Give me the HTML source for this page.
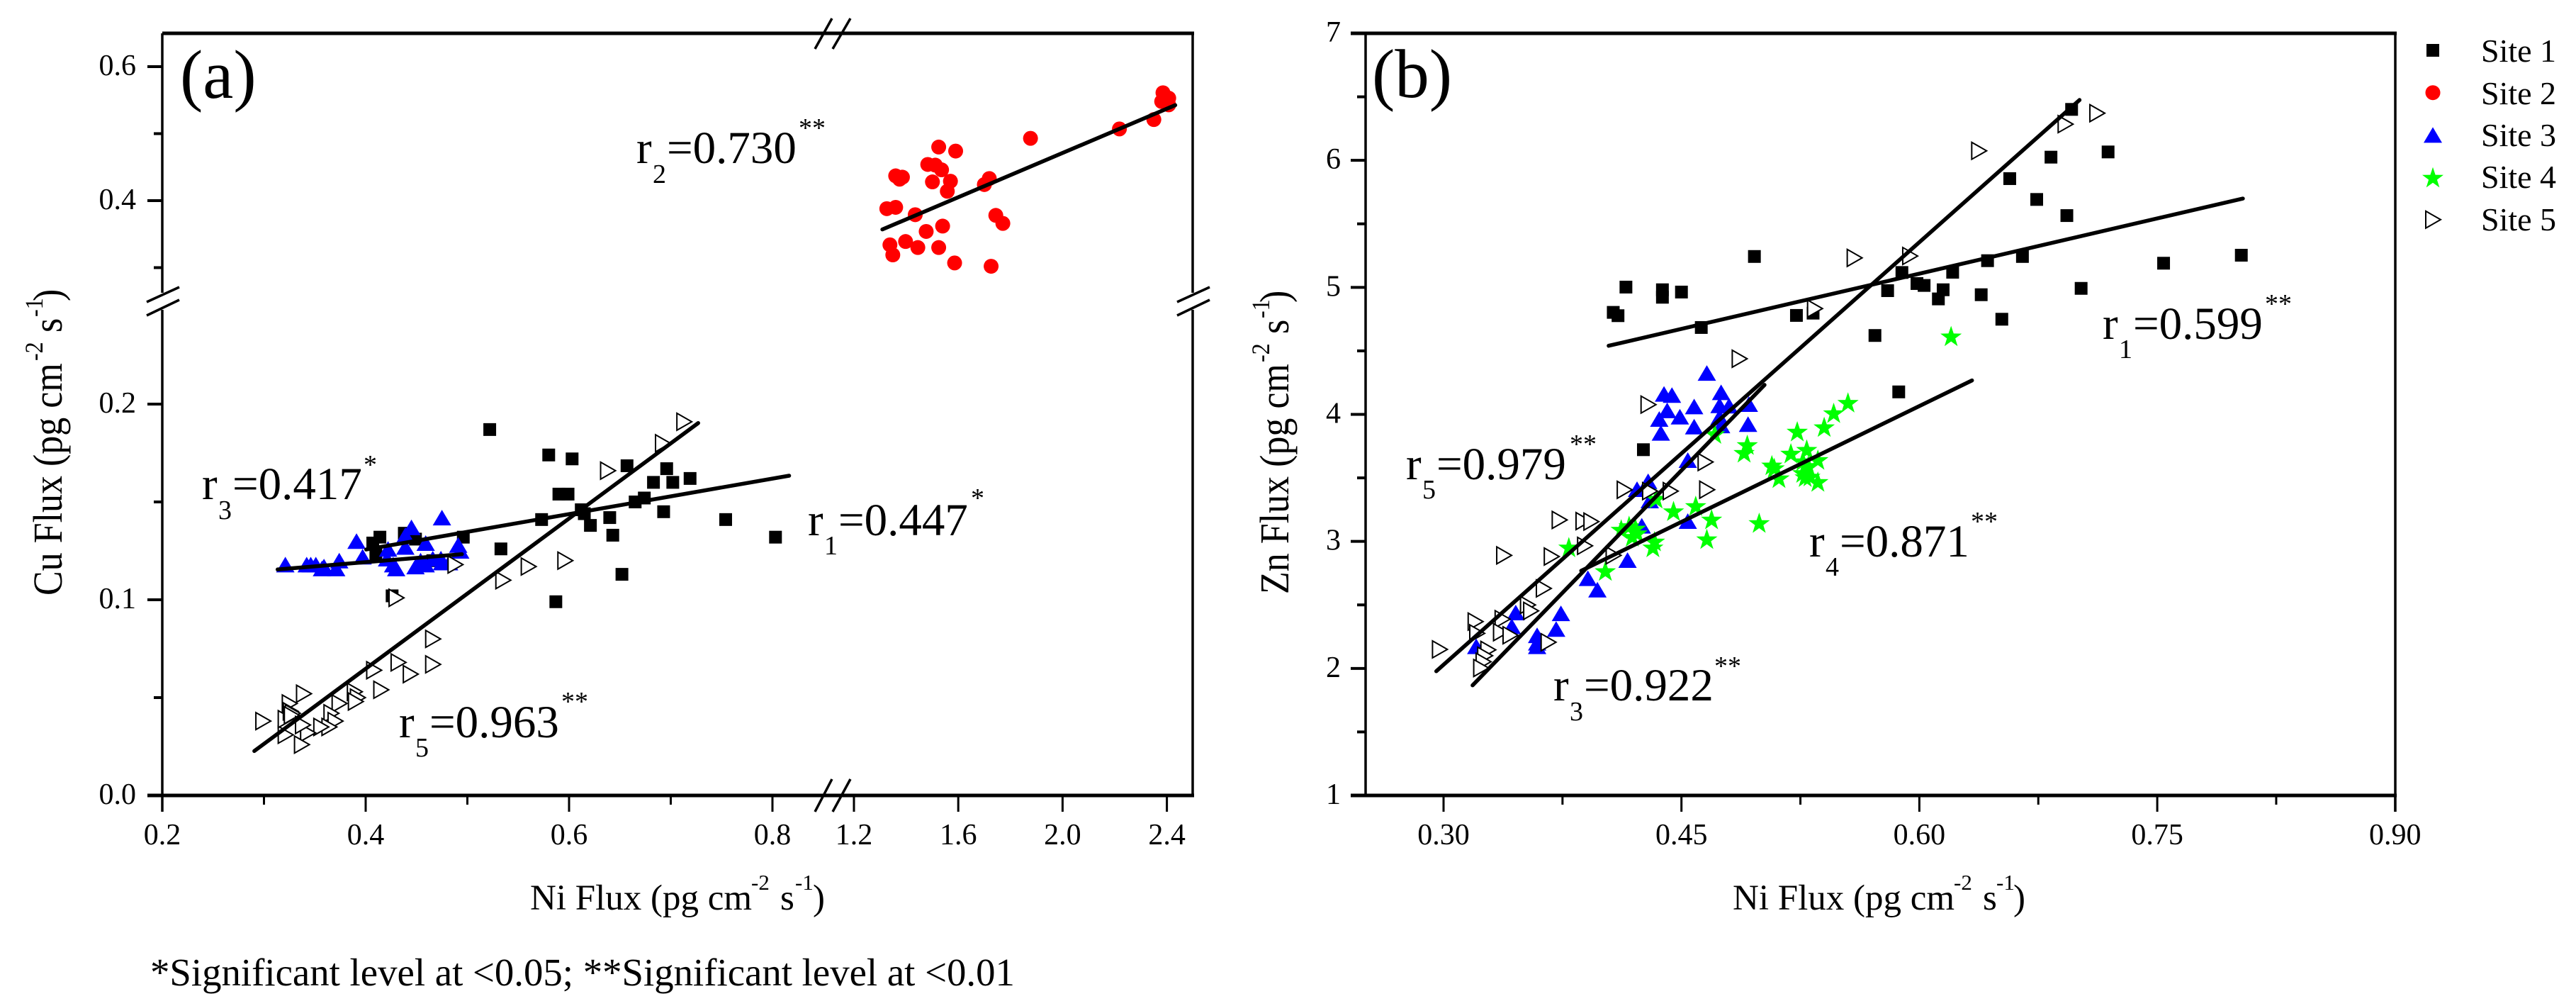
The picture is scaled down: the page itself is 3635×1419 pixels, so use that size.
<!DOCTYPE html>
<html lang="en">
<head>
<meta charset="utf-8">
<title>Ni flux correlation scatter charts</title>
<style>
html,body{margin:0;padding:0;background:#fff;}
svg{display:block;font-family:"Liberation Serif","Times New Roman",serif;fill:#000;}
</style>
</head>
<body>
<svg id="fig" xmlns="http://www.w3.org/2000/svg" width="3635" height="1419" viewBox="0 0 3635 1419">
<rect width="3635" height="1419" fill="#fff"/>
<g id="a-axes"></g>
<g id="b-axes"></g>
<g id="a-marks"></g>
<g id="b-marks"></g>
<g id="legend-marks"></g>

<text x="254" y="138" font-size="97">(a)</text>
<text x="1936" y="137" font-size="97">(b)</text>

<g id="r2a"><text x="898" y="230" font-size="65">r</text><text x="921" y="258" font-size="38">2</text><text x="941" y="230" font-size="65">=0.730</text><text x="1127" y="193" font-size="38">**</text></g>
<g><text x="285" y="704" font-size="65">r</text><text x="308" y="732" font-size="38">3</text><text x="328" y="704" font-size="65">=0.417</text><text x="513" y="668" font-size="38">*</text></g>
<g><text x="1140" y="755" font-size="65">r</text><text x="1163" y="782" font-size="38">1</text><text x="1183" y="755" font-size="65">=0.447</text><text x="1370" y="715" font-size="38">*</text></g>
<g><text x="563" y="1040" font-size="65">r</text><text x="586" y="1067" font-size="38">5</text><text x="606" y="1040" font-size="65">=0.963</text><text x="792" y="1002" font-size="38">**</text></g>

<g><text x="2967" y="478" font-size="65">r</text><text x="2990" y="505" font-size="38">1</text><text x="3010" y="478" font-size="65">=0.599</text><text x="3196" y="441" font-size="38">**</text></g>
<g><text x="1984" y="676" font-size="65">r</text><text x="2007" y="703" font-size="38">5</text><text x="2027" y="676" font-size="65">=0.979</text><text x="2215" y="639" font-size="38">**</text></g>
<g><text x="2553" y="785" font-size="65">r</text><text x="2576" y="812" font-size="38">4</text><text x="2596" y="785" font-size="65">=0.871</text><text x="2781" y="748" font-size="38">**</text></g>
<g><text x="2192" y="988" font-size="65">r</text><text x="2215" y="1016" font-size="38">3</text><text x="2235" y="988" font-size="65">=0.922</text><text x="2419" y="952" font-size="38">**</text></g>

<g><text x="748" y="1283" font-size="51">Ni Flux (pg cm</text><text x="1060" y="1255" font-size="31">-2</text><text x="1101" y="1283" font-size="51">s</text><text x="1122" y="1255" font-size="31">-1</text><text x="1147" y="1283" font-size="51">)</text></g>
<g><text x="2445" y="1283" font-size="51">Ni Flux (pg cm</text><text x="2757" y="1255" font-size="31">-2</text><text x="2798" y="1283" font-size="51">s</text><text x="2817" y="1255" font-size="31">-1</text><text x="2841" y="1283" font-size="51">)</text></g>

<g transform="translate(87 0) rotate(-90) scale(1 1.12)"><text x="-840" y="0" font-size="52">Cu Flux (pg cm</text><text x="-509" y="-24" font-size="32">-2</text><text x="-469" y="0" font-size="52">s</text><text x="-447" y="-24" font-size="32">-1</text><text x="-425" y="0" font-size="52">)</text></g>
<g transform="translate(1818 0) rotate(-90) scale(1 1.12)"><text x="-838" y="0" font-size="52">Zn Flux (pg cm</text><text x="-511" y="-24" font-size="32">-2</text><text x="-471" y="0" font-size="52">s</text><text x="-449" y="-24" font-size="32">-1</text><text x="-427" y="0" font-size="52">)</text></g>

<text x="212" y="1390" font-size="54.8">*Significant level at &lt;0.05; **Significant level at &lt;0.01</text>

<g font-size="46">
<text x="3501" y="87">Site 1</text>
<text x="3501" y="147">Site 2</text>
<text x="3501" y="206">Site 3</text>
<text x="3501" y="265">Site 4</text>
<text x="3501" y="325">Site 5</text>
</g>
</svg>

<script>
// ---- Panel (a) ticks ----
const aXMajorLow = [0.2, 0.4, 0.6, 0.8];
const aXMajorHigh = [1.2, 1.6, 2.0, 2.4];
const aXMinor = [0.3, 0.5, 0.7];
const aYMajor = [0.0, 0.1, 0.2, 0.4, 0.6];
const aYMinor = [0.05, 0.15, 0.3, 0.5];

// ---- Panel (b) ticks ----
const bXMajor = [0.30, 0.45, 0.60, 0.75, 0.90];
const bXMinor = [0.375, 0.525, 0.675, 0.825];
const bYMajor = [1, 2, 3, 4, 5, 6, 7];
const bYMinor = [1.5, 2.5, 3.5, 4.5, 5.5, 6.5];

// ---- Panel (a) series: [Ni, Cu] ----
const aSite1 = [[.522,.187],[.580,.174],[.603,.172],[.657,.1685],[.696,.167],[.683,.160],[.702,.160],[.719,.162],[.590,.154],[.599,.154],[.573,.141],[.612,.146],[.615,.144],[.621,.138],[.640,.142],[.643,.133],[.665,.150],[.674,.152],[.693,.145],[.754,.141],[.803,.132],[.533,.126],[.652,.113],[.587,.099],[.407,.129],[.414,.132],[.438,.134],[.449,.131],[.496,.132],[.466,.120],[.410,.123],[.426,.102]];
const aSite2 = [[2.385,.561],[2.407,.553],[2.380,.548],[2.400,.548],[2.407,.543],[2.350,.521],[2.218,.507],[1.877,.493],[1.525,.480],[1.590,.474],[1.483,.454],[1.512,.453],[1.536,.446],[1.360,.437],[1.375,.432],[1.386,.435],[1.501,.428],[1.570,.429],[1.558,.414],[1.719,.433],[1.700,.424],[1.326,.388],[1.360,.390],[1.435,.379],[1.744,.378],[1.771,.366],[1.540,.362],[1.477,.354],[1.398,.339],[1.338,.334],[1.445,.330],[1.525,.330],[1.349,.319],[1.586,.307],[1.726,.302]];
const aSite3 = [[.321,.118],[.342,.118],[.346,.118],[.351,.118],[.359,.117],[.357,.116],[.374,.120],[.371,.116],[.391,.130],[.397,.122],[.422,.126],[.421,.121],[.445,.137],[.439,.133],[.439,.127],[.459,.129],[.475,.142],[.491,.128],[.493,.125],[.474,.121],[.466,.121],[.454,.120],[.449,.117],[.459,.118],[.430,.116],[.427,.118],[.475,.119],[.482,.119]];
const aSite5 = [[.299,.038],[.339,.052],[.325,.047],[.466,.080],[.466,.067],[.432,.068],[.444,.062],[.408,.064],[.415,.054],[.389,.053],[.392,.050],[.390,.048],[.374,.047],[.366,.042],[.370,.038],[.364,.035],[.356,.035],[.343,.032],[.337,.026],[.321,.031],[.321,.039],[.326,.043],[.328,.042],[.327,.041],[.338,.036],[.638,.166],[.692,.180],[.713,.191],[.560,.117],[.596,.120],[.535,.110],[.488,.118],[.430,.101]];

// ---- Panel (a) fit lines: endpoints as data values ----
const aFit1X = [.4005, .8164];
const aFit1Y = [.1257, .1634];
const aFit2X = [1.309, 2.432];
const aFit2Y = [.357, .5425];
const aFit3X = [.3134, .4946];
const aFit3Y = [.1155, .1233];
const aFit5X = [.2905, .727];
const aFit5Y = [.0227, .1903];

// ---- Panel (b) series: [Ni, Zn] ----
const bSite1 = [[.415,5.002],[.438,4.981],[.438,4.922],[.450,4.963],[.496,5.243],[.407,4.803],[.410,4.777],[.4625,4.684],[.5225,4.779],[.533,4.797],[.589,5.117],[.580,4.974],[.5985,5.030],[.603,5.015],[.572,4.621],[.696,6.401],[.719,6.066],[.683,6.025],[.657,5.856],[.674,5.692],[.693,5.565],[.665,5.243],[.643,5.210],[.621,5.119],[.615,4.981],[.612,4.909],[.639,4.942],[.702,4.992],[.754,5.190],[.803,5.253],[.652,4.749],[.426,3.722],[.587,4.177]];
const bSite3 = [[.466,4.326],[.439,4.161],[.444,4.152],[.475,4.174],[.458,4.062],[.474,4.071],[.480,4.068],[.4925,4.081],[.441,4.031],[.449,3.982],[.436,3.964],[.474,3.979],[.458,3.904],[.492,3.923],[.475,3.913],[.437,3.854],[.454,3.640],[.429,3.473],[.422,3.411],[.430,3.322],[.454,3.160],[.425,3.123],[.416,2.853],[.391,2.710],[.397,2.620],[.374,2.434],[.371,2.310],[.359,2.261],[.359,2.202],[.359,2.174],[.3455,2.440],[.343,2.332],[.3206,2.174]];
const bSite4 = [[.620,4.617],[.555,4.094],[.546,4.012],[.540,3.902],[.523,3.867],[.4915,3.761],[.4895,3.700],[.529,3.724],[.519,3.694],[.536,3.644],[.507,3.601],[.5085,3.579],[.5265,3.634],[.530,3.597],[.5265,3.541],[.5115,3.500],[.528,3.508],[.536,3.471],[.531,3.513],[.471,3.848],[.434,3.339],[.459,3.281],[.445,3.240],[.469,3.175],[.466,3.020],[.499,3.147],[.412,3.095],[.417,3.123],[.421,3.104],[.422,3.067],[.419,3.039],[.433,3.002],[.432,2.955],[.379,2.955],[.402,2.769]];
const bSite5 = [[.559,5.232],[.594,5.247],[.534,4.833],[.4865,4.438],[.712,6.371],[.692,6.285],[.6375,6.075],[.429,4.077],[.465,3.625],[.414,3.406],[.430,3.396],[.443,3.396],[.466,3.407],[.373,3.169],[.388,3.160],[.393,3.156],[.389,2.965],[.338,2.890],[.368,2.881],[.407,2.890],[.363,2.630],[.353,2.500],[.355,2.453],[.337,2.388],[.320,2.369],[.321,2.276],[.336,2.285],[.342,2.261],[.366,2.206],[.328,2.146],[.326,2.100],[.325,2.053],[.3235,2.003],[.2975,2.150]];

// ---- Panel (b) fit lines ----
const bFit1X = [.4041, .804];
const bFit1Y = [4.540, 5.699];
const bFit3X = [.3183, .5024];
const bFit3Y = [1.867, 4.232];
const bFit4X = [.3868, .6332];
const bFit4Y = [2.769, 4.267];
const bFit5X = [.2954, .701];
const bFit5Y = [1.978, 6.475];

// ---- Legend ----
const legendSites = ['square', 'circle', 'triangle', 'star', 'open'];

// ---- Axis functions ----
function xa(v) { return v <= 1.0 ? 229 + (v - 0.2) * 1435 : 1205 + (v - 1.2) * 368; }
function ya(v) { return v >= 0.255 ? 283 - (v - 0.4) * 945 : 1122 - v * 2760; }
function xb(v) { return 2037 + (v - 0.3) * 2238; }
function yb(v) { return 1122 - (v - 1) * 179.17; }

const NS = 'http://www.w3.org/2000/svg';
function make(tag, attrs, parent) {
  const el = document.createElementNS(NS, tag);
  for (const k in attrs) el.setAttribute(k, attrs[k]);
  parent.appendChild(el);
  return el;
}
function seg(parent, x1, y1, x2, y2, w, name, cap) {
  const el = make('line', {x1: x1, y1: y1, x2: x2, y2: y2, stroke: '#000', 'stroke-width': w, 'stroke-linecap': cap || 'butt'}, parent);
  
  
  return el;
}
function tickLabel(parent, x, y, text, anchor, name) {
  const el = make('text', {x: x, y: y, 'font-size': 42, 'text-anchor': anchor}, parent);
  el.textContent = text;
  
  
}
function marker(parent, kind, cx, cy, name) {
  let el;
  if (kind === 'square') {
    el = make('rect', {x: cx - 9, y: cy - 9, width: 18, height: 18, fill: '#000'}, parent);
  } else if (kind === 'circle') {
    el = make('circle', {cx: cx, cy: cy, r: 10.5, fill: '#f00'}, parent);
  } else if (kind === 'triangle') {
    el = make('polygon', {points: (cx) + ',' + (cy - 11) + ' ' + (cx + 13) + ',' + (cy + 11) + ' ' + (cx - 13) + ',' + (cy + 11), fill: '#00f'}, parent);
  } else if (kind === 'star') {
    const pts = [];
    for (let i = 0; i < 10; i++) {
      const r = i % 2 ? 6.2 : 15.8;
      const t = -Math.PI / 2 + i * Math.PI / 5;
      pts.push((cx + r * Math.cos(t)).toFixed(1) + ',' + (cy + 1.5 + r * Math.sin(t)).toFixed(1));
    }
    el = make('polygon', {points: pts.join(' '), fill: '#0f0'}, parent);
  } else {
    el = make('polygon', {points: (cx - 10) + ',' + (cy - 12) + ' ' + (cx + 11) + ',' + cy + ' ' + (cx - 10) + ',' + (cy + 12), fill: '#fff', stroke: '#000', 'stroke-width': 2}, parent);
  }
  
  
}
function breakMark(parent, x1, y1, x2, y2, name) {
  seg(parent, x1, y1, x2, y2, 3.5, name);
}

// ---- Panel (a) axes ----
const ga = document.getElementById('a-axes');
seg(ga, 229, 47, 1685, 47, 5, 'top-axis-a');
seg(ga, 208, 1122, 1685, 1122, 5, 'bottom-axis-a');
seg(ga, 229, 47, 229, 413, 3.5, 'left-axis-upper-a');
seg(ga, 229, 437, 229, 1145, 3.5, 'left-axis-lower-a');
seg(ga, 1683, 47, 1683, 413, 3.5, 'right-axis-upper-a');
seg(ga, 1683, 437, 1683, 1122, 3.5, 'right-axis-lower-a');
aYMajor.forEach(function (v) {
  seg(ga, 208, ya(v), 229, ya(v), 4, 'y-tick-a');
  tickLabel(ga, 192, ya(v) + 12, v.toFixed(1), 'end', 'y-tick-label-a');
});
aYMinor.forEach(function (v) {
  seg(ga, 217, ya(v), 229, ya(v), 4, 'y-minor-tick-a');
});
aXMajorLow.concat(aXMajorHigh).forEach(function (v) {
  seg(ga, xa(v), 1122, xa(v), 1145, 3, 'x-tick-a');
  tickLabel(ga, xa(v), 1191, v.toFixed(1), 'middle', 'x-tick-label-a');
});
aXMinor.forEach(function (v) {
  seg(ga, xa(v), 1122, xa(v), 1135, 3, 'x-minor-tick-a');
});
breakMark(ga, 1150, 69, 1174, 26, 'top-axis-break-a');
breakMark(ga, 1175, 69, 1200, 26, 'top-axis-break-a');
breakMark(ga, 1150, 1145, 1174, 1099, 'bottom-axis-break-a');
breakMark(ga, 1175, 1145, 1200, 1099, 'bottom-axis-break-a');
breakMark(ga, 207, 426, 253, 405, 'left-axis-break-a');
breakMark(ga, 207, 445, 253, 423, 'left-axis-break-a');
breakMark(ga, 1661, 426, 1707, 405, 'right-axis-break-a');
breakMark(ga, 1661, 445, 1707, 423, 'right-axis-break-a');

// ---- Panel (b) axes ----
const gb = document.getElementById('b-axes');
seg(gb, 1906, 47, 3382, 47, 5, 'top-axis-b');
seg(gb, 1906, 1122, 3382, 1122, 5, 'bottom-axis-b');
seg(gb, 1927, 47, 1927, 1122, 3.5, 'left-axis-b');
seg(gb, 3380, 47, 3380, 1145, 3.5, 'right-axis-b');
bYMajor.forEach(function (v) {
  seg(gb, 1906, yb(v), 1927, yb(v), 4, 'y-tick-b');
  tickLabel(gb, 1892, yb(v) + 12, String(v), 'end', 'y-tick-label-b');
});
bYMinor.forEach(function (v) {
  seg(gb, 1915, yb(v), 1927, yb(v), 4, 'y-minor-tick-b');
});
bXMajor.forEach(function (v) {
  seg(gb, xb(v), 1122, xb(v), 1145, 3, 'x-tick-b');
  tickLabel(gb, xb(v), 1191, v.toFixed(2), 'middle', 'x-tick-label-b');
});
bXMinor.forEach(function (v) {
  seg(gb, xb(v), 1122, xb(v), 1135, 3, 'x-minor-tick-b');
});

// ---- Marks ----
const ma = document.getElementById('a-marks');
aSite1.forEach(function (p) { marker(ma, 'square', xa(p[0]), ya(p[1]), 'site-1-point-a'); });
aSite2.forEach(function (p) { marker(ma, 'circle', xa(p[0]), ya(p[1]), 'site-2-point-a'); });
aSite3.forEach(function (p) { marker(ma, 'triangle', xa(p[0]), ya(p[1]), 'site-3-point-a'); });
aSite5.forEach(function (p) { marker(ma, 'open', xa(p[0]), ya(p[1]), 'site-5-point-a'); });
seg(ma, xa(aFit1X[0]), ya(aFit1Y[0]), xa(aFit1X[1]), ya(aFit1Y[1]), 5.5, 'fit-line-site-1-a', 'round');
seg(ma, xa(aFit2X[0]), ya(aFit2Y[0]), xa(aFit2X[1]), ya(aFit2Y[1]), 5.5, 'fit-line-site-2-a', 'round');
seg(ma, xa(aFit3X[0]), ya(aFit3Y[0]), xa(aFit3X[1]), ya(aFit3Y[1]), 5.5, 'fit-line-site-3-a', 'round');
seg(ma, xa(aFit5X[0]), ya(aFit5Y[0]), xa(aFit5X[1]), ya(aFit5Y[1]), 5.5, 'fit-line-site-5-a', 'round');

const mb = document.getElementById('b-marks');
bSite1.forEach(function (p) { marker(mb, 'square', xb(p[0]), yb(p[1]), 'site-1-point-b'); });
bSite3.forEach(function (p) { marker(mb, 'triangle', xb(p[0]), yb(p[1]), 'site-3-point-b'); });
bSite4.forEach(function (p) { marker(mb, 'star', xb(p[0]), yb(p[1]), 'site-4-point-b'); });
bSite5.forEach(function (p) { marker(mb, 'open', xb(p[0]), yb(p[1]), 'site-5-point-b'); });
seg(mb, xb(bFit1X[0]), yb(bFit1Y[0]), xb(bFit1X[1]), yb(bFit1Y[1]), 5.5, 'fit-line-site-1-b', 'round');
seg(mb, xb(bFit3X[0]), yb(bFit3Y[0]), xb(bFit3X[1]), yb(bFit3Y[1]), 5.5, 'fit-line-site-3-b', 'round');
seg(mb, xb(bFit4X[0]), yb(bFit4Y[0]), xb(bFit4X[1]), yb(bFit4Y[1]), 5.5, 'fit-line-site-4-b', 'round');
seg(mb, xb(bFit5X[0]), yb(bFit5Y[0]), xb(bFit5X[1]), yb(bFit5Y[1]), 5.5, 'fit-line-site-5-b', 'round');

// ---- Legend markers ----
const lg = document.getElementById('legend-marks');
legendSites.forEach(function (kind, i) {
  marker(lg, kind, 3433, 71 + i * 59.7, 'legend-marker');
});
</script>
</body>
</html>
